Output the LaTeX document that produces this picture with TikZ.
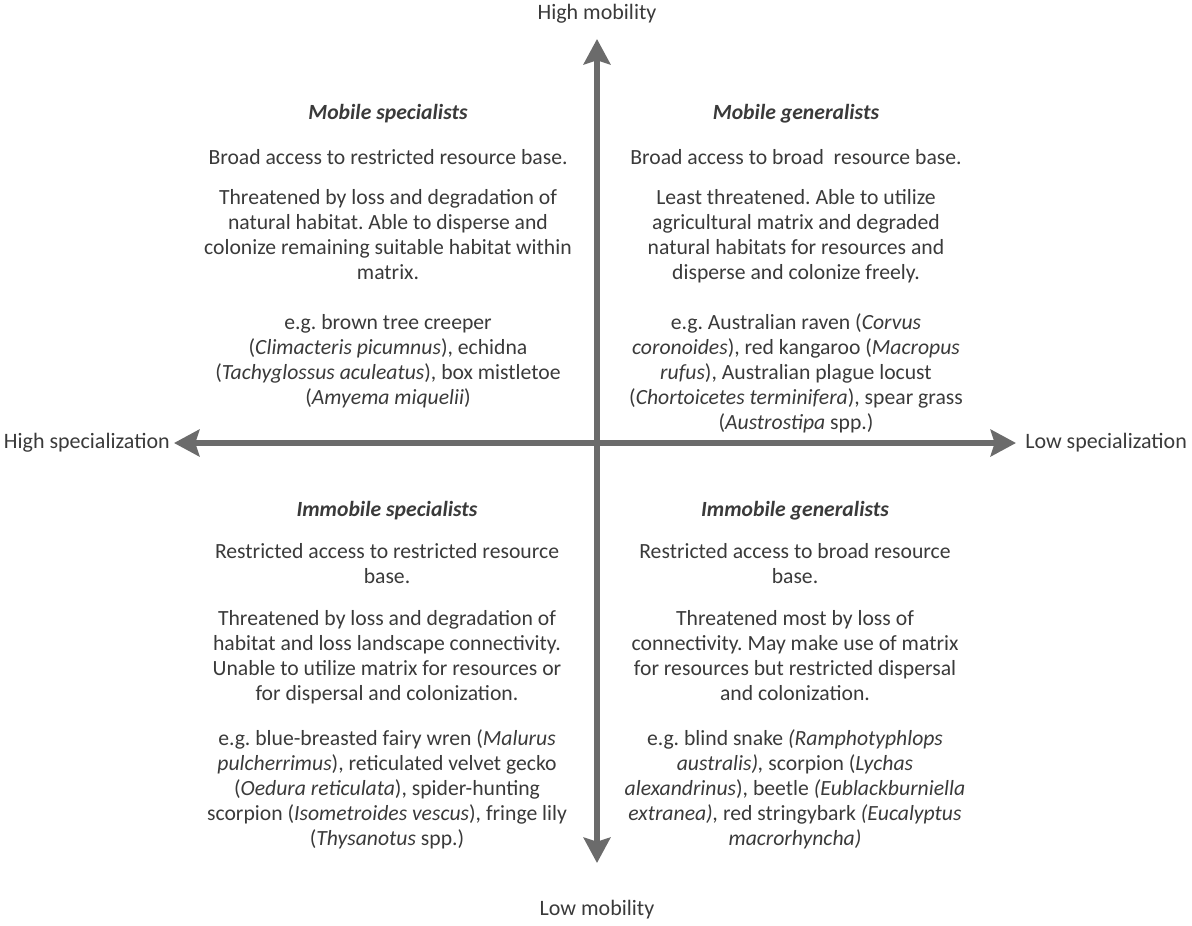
\documentclass[tikz,border=0pt]{standalone}
\usepackage{fontspec}
\setmainfont{Carlito}
\usetikzlibrary{arrows.meta}
\definecolor{axisgray}{HTML}{6B6B6B}
\definecolor{textgray}{HTML}{3A3A3A}
\frenchspacing
\begin{document}
\begin{tikzpicture}[x=0.75pt,y=-0.75pt,
	axis/.style={line width=4.5pt,draw=axisgray,
		{Stealth[length=19pt,width=20pt,inset=3pt]}-{Stealth[length=19pt,width=20pt,inset=3pt]}},
	axislabel/.style={inner sep=0pt,text=textgray,font=\fontsize{16.5}{18}\selectfont},
	quadrant/.style={inner sep=0pt,align=center,anchor=north,text=textgray,
		font=\fontsize{16.25}{18.75}\selectfont}]
	\useasboundingbox (0,0) rectangle (1192,925);
	
	\coordinate (top) at (597,39);
	\coordinate (bottom) at (597,863);
	\coordinate (left) at (174,443);
	\coordinate (right) at (1016,443);
	\draw[axis] (bottom) -- (top);
	\draw[axis] (left) -- (right);
	
	\node[axislabel] (hmob) at (597,14) {High mobility};
	\node[axislabel] (lmob) at (597,910) {Low mobility};
	\node[axislabel,anchor=east] (hspec) at (170,443) {High specialization};
	\node[axislabel,anchor=west] (lspec) at (1025,443) {Low specialization};
	
	\node[quadrant] (ms) at (388,104) {%
		\textbf{\textit{Mobile specialists}}\\[15pt]
		Broad access to restricted resource base.\\[11.25pt]
		Threatened by loss and degradation of\\
		natural habitat. Able to disperse and\\
		colonize remaining suitable habitat within\\
		matrix.\\[18.75pt]
		e.g. brown tree creeper\\
		(\textit{Climacteris picumnus}), echidna\\
		(\textit{Tachyglossus aculeatus}), box mistletoe\\
		(\textit{Amyema miquelii})};
	
	\node[quadrant] (mg) at (796,104) {%
		\textbf{\textit{Mobile generalists}}\\[15pt]
		Broad access to broad\ \ resource base.\\[11.25pt]
		Least threatened. Able to utilize\\
		agricultural matrix and degraded\\
		natural habitats for resources and\\
		disperse and colonize freely.\\[18.75pt]
		e.g. Australian raven (\textit{Corvus}\\
		\textit{coronoides}), red kangaroo (\textit{Macropus}\\
		\textit{rufus}), Australian plague locust\\
		(\textit{Chortoicetes terminifera}), spear grass\\
		(\textit{Austrostipa} spp.)};
	
	\node[quadrant] (is) at (387,501) {%
		\textbf{\textit{Immobile specialists}}\\[12.75pt]
		Restricted access to restricted resource\\
		base.\\[12.75pt]
		Threatened by loss and degradation of\\
		habitat and loss landscape connectivity.\\
		Unable to utilize matrix for resources or\\
		for dispersal and colonization.\\[15pt]
		e.g. blue-breasted fairy wren (\textit{Malurus}\\
		\textit{pulcherrimus}), reticulated velvet gecko\\
		(\textit{Oedura reticulata}), spider-hunting\\
		scorpion (\textit{Isometroides vescus}), fringe lily\\
		(\textit{Thysanotus} spp.)};
	
	\node[quadrant] (ig) at (795,501) {%
		\textbf{\textit{Immobile generalists}}\\[12.75pt]
		Restricted access to broad resource\\
		base.\\[12.75pt]
		Threatened most by loss of\\
		connectivity. May make use of matrix\\
		for resources but restricted dispersal\\
		and colonization.\\[15pt]
		e.g. blind snake \textit{(Ramphotyphlops}\\
		\textit{australis),} scorpion (\textit{Lychas}\\
		\textit{alexandrinus}), beetle \textit{(Eublackburniella}\\
		\textit{extranea),} red stringybark \textit{(Eucalyptus}\\
		\textit{macrorhyncha)}};
	
\end{tikzpicture}
\end{document}
